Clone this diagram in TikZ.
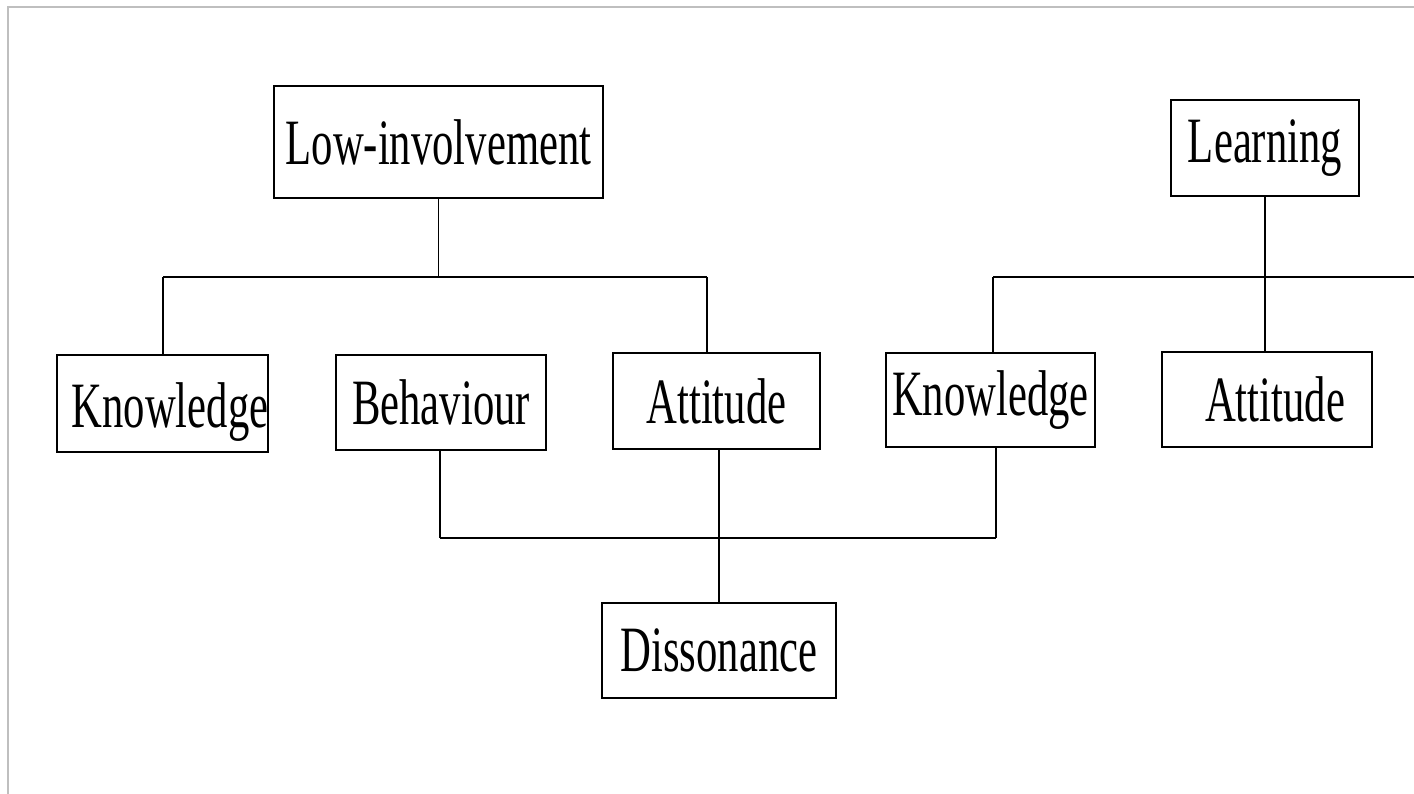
\documentclass[tikz,border=0pt]{standalone}
\usepackage{fontspec}
\setmainfont[FakeStretch=0.66]{Liberation Serif}
\usepackage{tikz}

\begin{document}
\begin{tikzpicture}[box/.style={draw, rectangle, line width=0.6pt, inner sep=0pt,
        font=\fontsize{18.4}{22}\selectfont},
    link/.style={line width=0.55pt}]
    \useasboundingbox (0,0) rectangle (14.14,7.94);
    \draw[gray!50, line width=0.6pt] (14.14,7.87) -- (0.08,7.87) -- (0.08,0);

    \node[box, minimum width=3.29cm, minimum height=1.12cm] (low) at (4.385,6.52) {Low-involvement};
    \node[box, minimum width=1.88cm, minimum height=0.96cm] (learn) at (12.65,6.46) {Learning};
    \node[box, minimum width=2.11cm, minimum height=0.97cm, text height=0.62cm] (know1) at (1.625,3.905) {\hspace*{0.15cm}Knowledge};
    \node[box, minimum width=2.10cm, minimum height=0.95cm] (behav) at (4.41,3.915) {Behaviour};
    \node[box, minimum width=2.07cm, minimum height=0.96cm] (att1) at (7.165,3.93) {Attitude};
    \node[box, minimum width=2.09cm, minimum height=0.94cm] (know2) at (9.905,3.94) {Knowledge};
    \node[box, minimum width=2.10cm, minimum height=0.95cm] (att2) at (12.67,3.945) {\hspace*{0.16cm}Attitude};
    \node[box, minimum width=2.34cm, minimum height=0.95cm] (diss) at (7.19,1.435) {Dissonance};

    % upper bars
    \coordinate (barL) at (1.63,5.17);
    \coordinate (barR) at (7.07,5.17);
    \coordinate (barK) at (9.93,5.17);
    \coordinate (barE) at (14.14,5.17);
    \draw[link] (barL) -- (barR);
    \draw[link] (low.south) -- (low.south |- barL);
    \draw[link] (barL) -- (barL |- know1.north);
    \draw[link] (barR) -- (barR |- att1.north);
    \draw[link] (barK) -- (barE);
    \draw[link] (barK) -- (barK |- know2.north);
    \draw[link] (learn.south) -- (learn.south |- att2.north);

    % lower bar
    \coordinate (lowL) at (4.40,2.56);
    \coordinate (lowR) at (9.96,2.56);
    \draw[link] (lowL) -- (lowR);
    \draw[link] (lowL |- behav.south) -- (lowL);
    \draw[link] (lowR |- know2.south) -- (lowR);
    \draw[link] (att1.south -| diss.north) -- (diss.north);
\end{tikzpicture}
\end{document}
